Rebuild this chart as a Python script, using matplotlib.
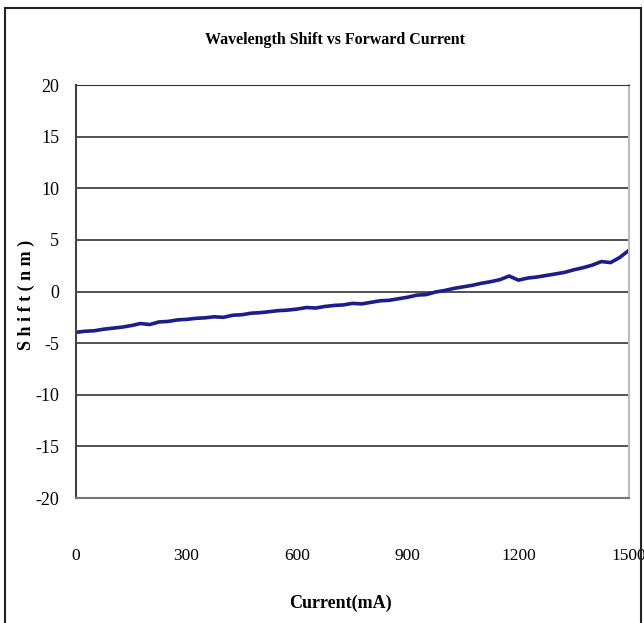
import matplotlib.pyplot as plt
import numpy as np
from matplotlib.patches import Rectangle

# current (mA) and wavelength shift (nm)
current = [0, 25, 50, 75, 100, 125, 150, 175, 200, 225, 250, 275, 300, 325, 350,
           375, 400, 425, 450, 475, 500, 525, 550, 575, 600, 625, 650, 675, 700,
           725, 750, 775, 800, 825, 850, 875, 900, 925, 950, 975, 1000, 1025,
           1050, 1075, 1100, 1125, 1150, 1175, 1200, 1225, 1250, 1275, 1300,
           1325, 1350, 1375, 1400, 1425, 1450, 1475, 1500]
shift = [-3.95, -3.85, -3.8, -3.65, -3.55, -3.45, -3.3, -3.1, -3.2, -2.95, -2.9,
         -2.75, -2.7, -2.6, -2.55, -2.45, -2.5, -2.3, -2.25, -2.1, -2.05, -1.95,
         -1.85, -1.8, -1.7, -1.55, -1.6, -1.45, -1.35, -1.3, -1.15, -1.2, -1.05,
         -0.9, -0.85, -0.7, -0.55, -0.35, -0.3, -0.05, 0.1, 0.3, 0.45, 0.6, 0.8,
         0.95, 1.15, 1.5, 1.1, 1.3, 1.4, 1.55, 1.7, 1.85, 2.1, 2.3, 2.55, 2.9,
         2.8, 3.3, 4.0]

xticks = [0, 300, 600, 900, 1200, 1500]
yticks = [-20, -15, -10, -5, 0, 5, 10, 15, 20]

plt.rcParams['font.family'] = ['Liberation Serif', 'DejaVu Serif']
plt.rcParams['axes.unicode_minus'] = False

fig = plt.figure(figsize=(6.44, 6.23), dpi=100)
ax = fig.add_axes([76/644, 1-498/623, 553/644, 413/623])

ax.plot(current, shift, color='#1c1c8a', lw=2.6)

ax.set_xlim(0, 1500)
ax.set_ylim(-20, 20)
ax.set_xticks(xticks)
ax.set_yticks(yticks)
ax.tick_params(length=0, labelsize=13)
ax.tick_params(axis='x', pad=36, labelsize=12.5)
ax.tick_params(axis='y', pad=12)
ax.grid(axis='y', color='#222222', lw=1.1)
ax.set_axisbelow(True)

ax.spines['top'].set_color('#333333')
ax.spines['left'].set_color('#444444')
ax.spines['left'].set_linewidth(1.5)
ax.spines['bottom'].set_color('#777777')
ax.spines['bottom'].set_linewidth(1.5)
ax.spines['right'].set_color('#bbbbbb')
ax.spines['right'].set_linewidth(1.5)

fig.text(335/644, 1-40/623, 'Wavelength Shift vs Forward Current',
         ha='center', va='center', fontsize=11.5, fontweight='bold')
fig.text(340/644, 1-603/623, 'Current(mA)', ha='center', va='center',
         fontsize=13, fontweight='bold')
fig.text(26/644, 1-295/623, 'S h i f t ( n m )', ha='center', va='center',
         rotation=90, fontsize=13, fontweight='bold')

# outer frame
fig.patches.append(Rectangle((5/644, -0.02), 636/644, 1-8/623+0.02,
                             transform=fig.transFigure, fill=False,
                             edgecolor='#222222', lw=1.5))

fig.savefig('out.png', dpi=100)
